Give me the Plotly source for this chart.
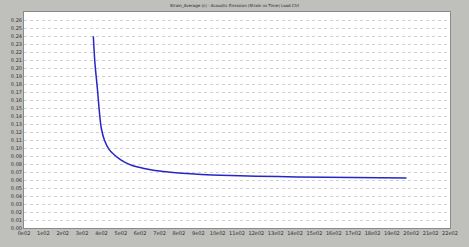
import plotly.graph_objects as go

# Curve samples (x in axis units, y in strain units)
x_vals = [3.58, 3.66, 3.79, 3.91, 3.99, 4.15, 4.40, 4.89, 5.22, 5.55,
          6.20, 7.19, 8.18, 9.16, 10.15, 12.0, 14.09, 17.0, 19.75]
y_vals = [0.2396, 0.207, 0.174, 0.141, 0.125, 0.110, 0.098, 0.087, 0.082, 0.0785,
          0.0745, 0.0705, 0.0683, 0.0668, 0.0658, 0.0647, 0.0639, 0.0632, 0.0626]

x_ticks = list(range(0, 23))
x_labels = [f"{t}e02" for t in x_ticks]
y_ticks = [i * 0.01 for i in range(0, 27)]
y_labels = [f"{v:.2f}" for v in y_ticks]
title = "Strain_Average (ε) - Acoustic Emission (Strain vs Time) Load Ctrl"

fig = go.Figure()
fig.add_trace(go.Scatter(x=x_vals, y=y_vals, mode="lines",
                         line=dict(color="#2626c8", width=1.5, shape="spline", smoothing=0.8),
                         showlegend=False))

fig.update_layout(
    width=469, height=247,
    margin=dict(l=14, r=11, t=12, b=15),
    paper_bgcolor="#bfbfbb",
    plot_bgcolor="#ffffff",
    title=dict(text=title, x=0.5, xanchor="center", y=0.985, yanchor="top",
               font=dict(family="DejaVu Sans", size=4, color="#202020")),
    xaxis=dict(range=[0, 22], tickvals=x_ticks, ticktext=x_labels, tickangle=0,
               showgrid=False, zeroline=False, showline=True, linecolor="#8a8a8a",
               mirror=True, ticks="", tickfont=dict(family="DejaVu Sans", size=5, color="#303030")),
    yaxis=dict(range=[0, 0.27], tickvals=y_ticks, ticktext=y_labels,
               showgrid=True, gridcolor="#cfcfd8", griddash="dot", gridwidth=1,
               zeroline=False, showline=True, linecolor="#8a8a8a", mirror=True,
               ticks="", tickfont=dict(family="DejaVu Sans", size=5, color="#303030")),
)

fig.write_html("out.html")
